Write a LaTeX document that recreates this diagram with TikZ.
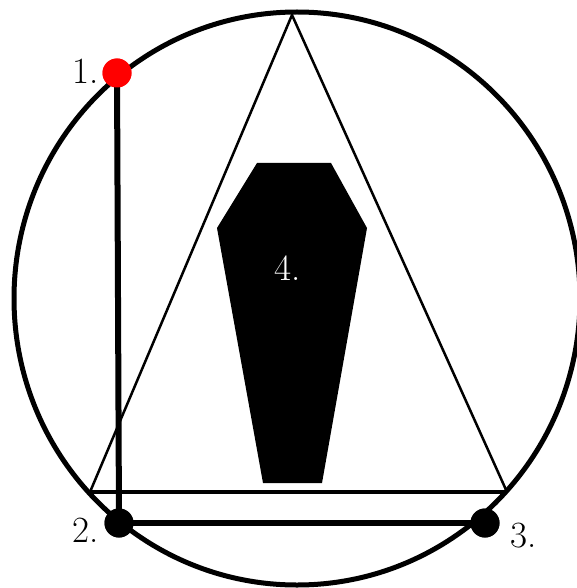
\documentclass[tikz,border=0pt]{standalone}
\begin{document}
\begin{tikzpicture}[x=1pt,y=-1pt,
  dot/.style={circle,fill=black,inner sep=0pt,minimum size=29pt},
  lbl/.style={inner sep=0pt,font=\fontsize{37}{40}\selectfont},
  thin/.style={line width=2.5pt},
  thick/.style={line width=6pt}]
\useasboundingbox (0,0) rectangle (577,588);
% circle
\draw[line width=5pt] (297,298.5) ellipse [x radius=283, y radius=286.5];
% triangle
\coordinate (A) at (292,15);
\coordinate (B) at (90,492);
\coordinate (C) at (507,492);
\draw[thin,line join=miter] (B) -- (A) -- (C);
\draw[line width=4.5pt] (B) -- (C);
% coffin
\fill (257,163) -- (331,163) -- (367,228) -- (322,483) -- (263,483) -- (217,228) -- cycle;
\node[lbl,text=white] (n4) at (288,268) {4.};
% dots
\node[dot,fill=red] (d1) at (117,73) {};
\node[dot] (d2) at (119,523) {};
\node[dot] (d3) at (485,523) {};
\draw[thick] (d1.center) -- (d2.center);
\draw[thick] (d2.center) -- (d3.center);
\node[dot,fill=red] at (d1) {};
\node[dot] at (d2) {};
\node[dot] at (d3) {};
% labels
\node[lbl] (l1) at (86,71) {1.};
\node[lbl] (l2) at (86,530) {2.};
\node[lbl] (l3) at (524,536) {3.};
\end{tikzpicture}
\end{document}
